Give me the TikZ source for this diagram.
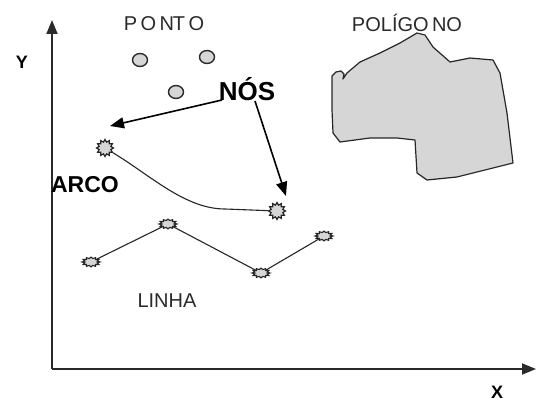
\documentclass[tikz,border=0pt]{standalone}
\usepackage{fontspec}
\setmainfont{Liberation Sans}
\usetikzlibrary{arrows.meta,shapes.geometric}
\definecolor{txt}{HTML}{2A2A2A}
\definecolor{pfill}{HTML}{D6D6D6}
\tikzset{
  lbl/.style={font=\fontsize{20}{22}\selectfont, text=txt, inner sep=0},
  blbl/.style={font=\bfseries\fontsize{23}{25}\selectfont, inner sep=0},
  axis/.style={line width=1.8pt, draw=txt, -{Triangle[length=14pt,width=11pt]}},
  pointer/.style={line width=1.6pt, -{Triangle[length=14pt,width=11pt]}},
  dot/.style={ellipse, draw=txt, line width=1.4pt, fill=pfill, minimum width=15pt, minimum height=13pt, inner sep=0},
  gear/.style={star, star points=12, star point ratio=1.4, draw=black!85, line width=1.2pt, fill=pfill, minimum size=17pt, inner sep=0},
  flatgear/.style={star, star points=12, star point ratio=1.4, draw=black!85, line width=1.1pt, fill=pfill, minimum size=18pt, inner sep=0, yscale=0.55, transform shape},
  thin/.style={line width=1.1pt, draw=black!85},
}
\begin{document}
\begin{tikzpicture}[x=1pt,y=-1pt]
\useasboundingbox (0,0) rectangle (536,403);
% axes
\coordinate (O) at (52,369);
\coordinate (Ytop) at (52,20);
\coordinate (Xend) at (536,369);
\draw[axis] (O) -- (Ytop);
\draw[axis] (O) -- (Xend);
\node[blbl, font=\bfseries\fontsize{18}{20}\selectfont] (ylab) at (22,62) {Y};
\node[blbl, font=\bfseries\fontsize{18}{20}\selectfont] (xlab) at (497,392) {X};
% points
\node[lbl] (ponto) at (164,24) {P\,O\,N\kern-1ptT\,O};
\node[dot] (p1) at (140,60) {};
\node[dot] (p2) at (207,57) {};
\node[dot] (p3) at (176,92) {};
% polygon
\node[lbl] (poli) at (407,23) {POLÍGO\,NO};
\draw[line width=1.2pt, draw=black!85, fill=pfill, line join=round]
  (332,76) -- (336,72) -- (341,71) -- (344,74) -- (343,79) -- (347,73) -- (360,62) -- (380,53) -- (400,43) -- (417,33) -- (425,35)
  -- (433,47) -- (450,62) -- (470,58) -- (493,60) -- (500,73) -- (507,113) -- (513,163)
  -- (497,167) -- (457,177) -- (427,180) -- (417,173) -- (415,140) -- (397,138)
  -- (370,138) -- (340,142) -- (333,133) -- (332,110) -- cycle;
% arc
\node[gear] (n1) at (105,148) {};
\node[gear] (n2) at (277,211) {};
\draw[thin] (n1) .. controls (150,175) and (185,209) .. (225,209) -- (n2);
\node[blbl] (arco) at (85,185) {ARCO};
% NOS
\node[blbl, font=\bfseries\fontsize{26}{28}\selectfont] (nos) at (247,89) {NÓS};
\coordinate (t1) at (110,126);
\coordinate (t2) at (286,196);
\draw[pointer] (222,100) -- (t1);
\draw[pointer] (255,101) -- (t2);
% line
\node[flatgear] (l1) at (91,262) {};
\node[flatgear] (l2) at (168,224) {};
\node[flatgear] (l3) at (261,273) {};
\node[flatgear] (l4) at (324,236) {};
\draw[thin] (l1) -- (l2) -- (l3) -- (l4);
\node[lbl] (linha) at (167,301) {LINHA};
\end{tikzpicture}
\end{document}
